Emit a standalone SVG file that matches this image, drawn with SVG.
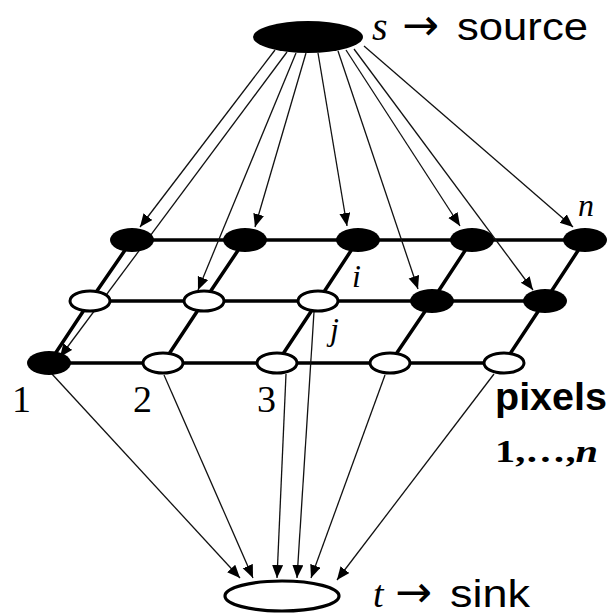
<svg xmlns="http://www.w3.org/2000/svg" width="613" height="616" viewBox="0 0 613 616">
  <style>
    .grid { stroke: #000; stroke-width: 3.5; fill: none; stroke-linecap: round; }
    .edge { stroke: #111; stroke-width: 1.3; fill: none; marker-end: url(#arrow); }
    .on { fill: #000; }
    .off { fill: #fff; stroke: #000; stroke-width: 3; }
    .it { font-family: "Liberation Serif", "Times New Roman", serif; font-style: italic; }
    .num { font-family: "Liberation Serif", "Times New Roman", serif; font-size: 38px; }
    .sans { font-family: "Liberation Sans", Arial, sans-serif; font-size: 38px; }
    .arr { font-family: "DejaVu Sans", sans-serif; font-size: 44px; }
  </style>
  <defs>
    <marker id="arrow" markerUnits="userSpaceOnUse" markerWidth="14" markerHeight="12" refX="13" refY="5.5" orient="auto">
      <path d="M0,0 L13,5.5 L0,11 Z" fill="#000"/>
    </marker>
  </defs>
  <rect width="613" height="616" fill="#fff"/>

  <!-- lattice of neighbour links -->
  <g id="lattice">
    <line class="grid" x1="132" y1="240" x2="585" y2="240"/>
    <line class="grid" x1="90" y1="301" x2="545" y2="301"/>
    <line class="grid" x1="49" y1="363" x2="504" y2="363"/>
    <polyline class="grid" points="132,240 90,301 49,363"/>
    <polyline class="grid" points="245,240 204,301 163,363"/>
    <polyline class="grid" points="358,240 318,301 277,363"/>
    <polyline class="grid" points="472,240 432,301 390,363"/>
    <polyline class="grid" points="585,240 545,301 504,363"/>
  </g>

  <!-- source and sink links -->
  <g id="connectors">
    <line class="edge" x1="275" y1="50" x2="140" y2="227"/>
    <line class="edge" x1="287" y1="52" x2="60" y2="357"/>
    <line class="edge" x1="296" y1="53" x2="198" y2="290"/>
    <line class="edge" x1="306" y1="53" x2="255" y2="227"/>
    <line class="edge" x1="318" y1="53" x2="347" y2="226"/>
    <line class="edge" x1="338" y1="51" x2="418" y2="289"/>
    <line class="edge" x1="346" y1="50" x2="460" y2="226"/>
    <line class="edge" x1="354" y1="49" x2="533" y2="290"/>
    <line class="edge" x1="364" y1="46" x2="573" y2="227"/>

    <line class="edge" x1="52" y1="374" x2="240" y2="578"/>
    <line class="edge" x1="164" y1="375" x2="253" y2="578"/>
    <line class="edge" x1="286" y1="374" x2="277" y2="578"/>
    <line class="edge" x1="314" y1="312" x2="297" y2="578"/>
    <line class="edge" x1="385" y1="375" x2="311" y2="578"/>
    <line class="edge" x1="494" y1="374" x2="337" y2="580"/>
  </g>

  <g id="source">
    <ellipse cx="308" cy="37" rx="55" ry="16" fill="#000"/>
    <text x="372" y="40" class="it" font-size="40">s</text>
    <text x="402" y="40" class="arr">→</text>
    <text x="457" y="40" class="sans" textLength="131" lengthAdjust="spacingAndGlyphs">source</text>
  </g>

  <g id="sink">
    <ellipse cx="282" cy="596" rx="57" ry="15" fill="#fff" stroke="#000" stroke-width="3.2"/>
    <text x="373" y="607" class="it" font-size="38">t</text>
    <text x="395" y="607" class="arr" font-size="42">→</text>
    <text x="450" y="607" class="sans" font-size="36" textLength="80" lengthAdjust="spacingAndGlyphs">sink</text>
  </g>

  <!-- pixel nodes, back row to front row -->
  <g id="p-r1c1"><ellipse class="on" cx="132" cy="240" rx="22" ry="12"/></g>
  <g id="p-r1c2"><ellipse class="on" cx="245" cy="240" rx="22" ry="12"/></g>
  <g id="p-r1c3"><ellipse class="on" cx="358" cy="240" rx="22" ry="12"/></g>
  <g id="p-r1c4"><ellipse class="on" cx="472" cy="240" rx="22" ry="12"/></g>
  <g id="p-r1c5"><ellipse class="on" cx="585" cy="240" rx="22" ry="12"/></g>

  <g id="p-r2c1"><ellipse class="off" cx="90" cy="301" rx="20" ry="10"/></g>
  <g id="p-r2c2"><ellipse class="off" cx="204" cy="301" rx="20" ry="10"/></g>
  <g id="p-r2c3"><ellipse class="off" cx="318" cy="301" rx="20" ry="10"/></g>
  <g id="p-r2c4"><ellipse class="on" cx="432" cy="301" rx="22" ry="12"/></g>
  <g id="p-r2c5"><ellipse class="on" cx="545" cy="301" rx="22" ry="12"/></g>

  <g id="p-r3c1"><ellipse class="on" cx="49" cy="363" rx="22" ry="12"/></g>
  <g id="p-r3c2"><ellipse class="off" cx="163" cy="363" rx="20" ry="10"/></g>
  <g id="p-r3c3"><ellipse class="off" cx="277" cy="363" rx="20" ry="10"/></g>
  <g id="p-r3c4"><ellipse class="off" cx="390" cy="363" rx="20" ry="10"/></g>
  <g id="p-r3c5"><ellipse class="off" cx="504" cy="363" rx="20" ry="10"/></g>

  <g id="labels">
    <text x="578" y="216" class="it" font-size="32">n</text>
    <text x="352" y="287" class="it" font-size="32">i</text>
    <text x="330" y="340" class="it" font-size="32">j</text>
    <text x="12" y="412" class="num">1</text>
    <text x="133" y="412" class="num">2</text>
    <text x="257" y="412" class="num">3</text>
    <text x="495" y="410" class="sans" font-weight="bold" textLength="112" lengthAdjust="spacingAndGlyphs">pixels</text>
    <text x="495" y="462" font-family="Liberation Serif, 'Times New Roman', serif" font-weight="bold" font-size="32" textLength="103" lengthAdjust="spacingAndGlyphs">1,…,<tspan font-style="italic">n</tspan></text>
  </g>
</svg>
